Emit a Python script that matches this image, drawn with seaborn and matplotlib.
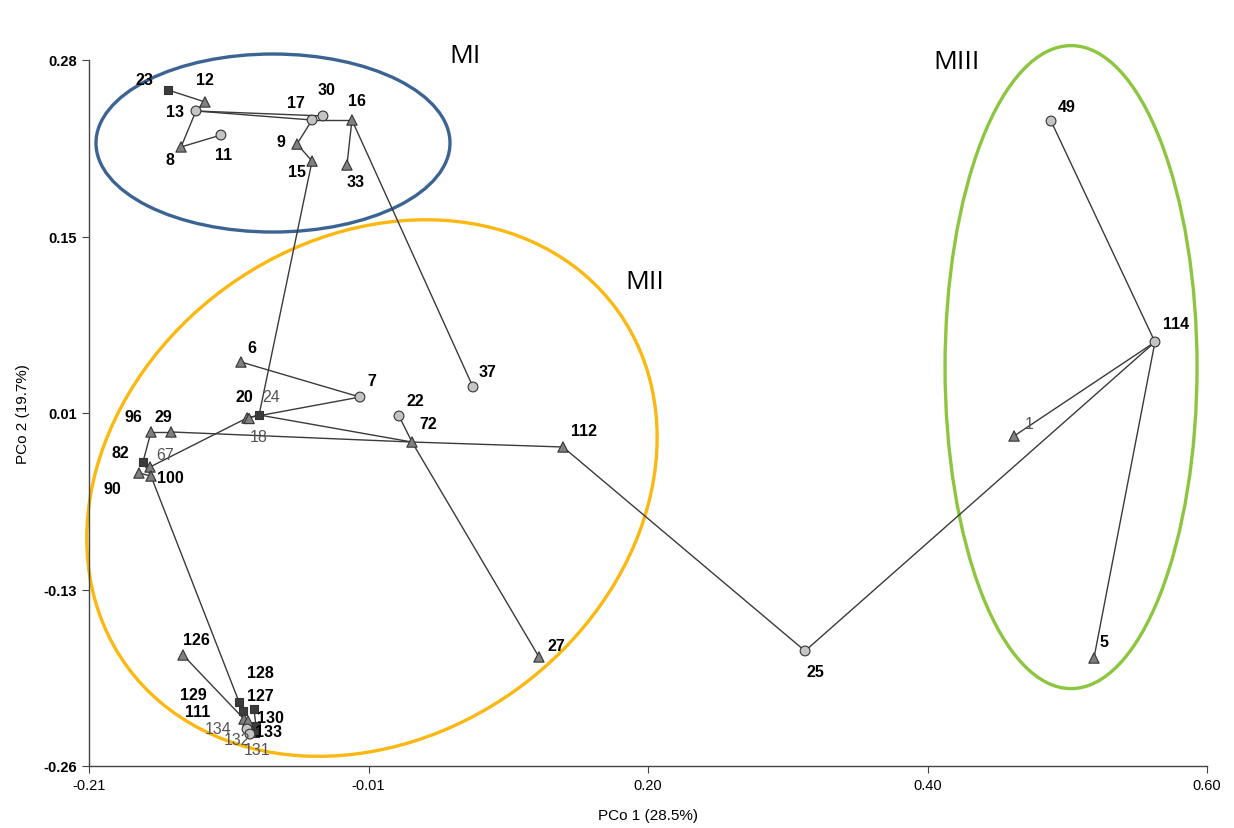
import matplotlib
matplotlib.use("Agg")
import matplotlib.pyplot as plt
from matplotlib.patches import Ellipse
from matplotlib.transforms import Affine2D, ScaledTranslation
import seaborn as sns
import pandas as pd
import numpy as np

# sample ids, coordinates on the two principal coordinates and marker type
ids = ["23", "12", "13", "8", "11", "17", "30", "16", "9", "15", "33", "37",
       "6", "7", "20", "24", "18", "96", "29", "82", "67", "90", "100", "22",
       "72", "112", "27", "25", "126", "129", "111", "127", "134", "130",
       "132", "133", "131", "128", "114", "49", "1", "5"]
pco1 = [-0.1528, -0.1260, -0.1325, -0.1433, -0.1144, -0.0484, -0.0405, -0.0195,
        -0.0593, -0.0484, -0.0231, 0.0682, -0.0999, -0.0137, -0.0955, -0.0868,
        -0.0940, -0.1651, -0.1506, -0.1709, -0.1658, -0.1738, -0.1651, 0.0146,
        0.0240, 0.1334, 0.1160, 0.3088, -0.1419, -0.1013, -0.0984, -0.0905,
        -0.0977, -0.0948, -0.0955, -0.0890, -0.0897, -0.0934, 0.5623, 0.4870,
        0.4602, 0.5181]
pco2 = [0.2571, 0.2479, 0.2410, 0.2135, 0.2226, 0.2341, 0.2372, 0.2341,
        0.2157, 0.2027, 0.1997, 0.0299, 0.0490, 0.0222, 0.0062, 0.0085,
        0.0058, -0.0045, -0.0045, -0.0275, -0.0313, -0.0359, -0.0382, 0.0077,
        -0.0122, -0.0160, -0.1766, -0.1720, -0.1751, -0.2110, -0.2179, -0.2164,
        -0.2241, -0.2256, -0.2317, -0.2294, -0.2348, -0.2356, 0.0643, 0.2333,
        -0.0076, -0.1774]
kind = ["sq", "tri", "circ", "tri", "circ", "circ", "circ", "tri", "tri", "tri",
        "tri", "circ", "tri", "circ", "tri", "sq", "tri", "tri", "tri", "sq",
        "tri", "tri", "tri", "circ", "tri", "tri", "tri", "circ", "tri", "sq",
        "sq", "sq", "tri", "tri", "circ", "sq", "sq", "circ", "circ", "circ",
        "tri", "tri"]

# minimum spanning tree links
links = [("23", "12"), ("12", "13"), ("13", "8"), ("8", "11"), ("13", "17"),
         ("13", "30"), ("17", "16"), ("17", "9"), ("9", "15"), ("15", "24"),
         ("16", "33"), ("16", "37"), ("24", "20"), ("20", "7"), ("7", "6"),
         ("24", "72"), ("29", "72"), ("96", "29"), ("96", "82"), ("82", "100"),
         ("90", "100"), ("67", "20"), ("100", "129"), ("22", "72"), ("72", "27"),
         ("72", "112"), ("112", "25"), ("25", "114"), ("114", "49"), ("114", "1"),
         ("114", "5"), ("126", "134"), ("129", "111"), ("111", "134"),
         ("134", "130"), ("130", "133"), ("127", "133"), ("133", "131"),
         ("134", "132"), ("132", "128")]

# groups: name, centre (pco1, pco2), label position
group_names = ["MI", "MII", "MIII"]
group_centres = [(-0.0767, 0.2165), (-0.0050, -0.0474), (0.5015, 0.0451)]
group_label_pos = [(0.0624, 0.2831), (0.1928, 0.1102), (0.4189, 0.2792)]

faint = {"24", "18", "67", "134", "132", "131", "1"}

# label offsets in pixels (dx, dy up)
offsets = {"23": (-24, 10), "12": (0, 22), "13": (-21, -1), "8": (-11, -13),
           "11": (3, -19), "17": (-16, 18), "30": (4, 26), "16": (5, 20),
           "9": (-16, 3), "15": (-15, -10), "33": (9, -17), "37": (15, 15),
           "6": (11, 15), "7": (12, 17), "20": (-3, 21), "24": (12, 18),
           "18": (10, -18), "96": (-18, 15), "29": (-8, 15), "82": (-23, 10),
           "67": (15, 12), "90": (-27, -15), "100": (19, -1), "22": (16, 16),
           "72": (16, 19), "112": (21, 16), "27": (17, 11), "25": (10, -21),
           "126": (13, 16), "129": (-46, 7), "111": (-45, -1), "127": (6, 13),
           "134": (-26, -9), "130": (22, 4), "132": (-10, -10), "133": (12, -6),
           "131": (2, -16), "128": (10, 62), "114": (21, 19), "49": (16, 15),
           "1": (15, 13), "5": (10, 17)}

df = pd.DataFrame({"id": ids, "pco1": pco1, "pco2": pco2, "kind": kind})
pos = df.set_index("id")

sns.set_style("ticks")
plt.rcParams["font.family"] = ["Liberation Sans", "DejaVu Sans"]
plt.rcParams["text.color"] = "black"
plt.rcParams["axes.labelcolor"] = "black"
plt.rcParams["xtick.labelcolor"] = "black"
plt.rcParams["ytick.labelcolor"] = "black"

fig = plt.figure(figsize=(12.34, 8.29), dpi=100)
ax = fig.add_axes([89 / 1234, 62 / 829, 1118 / 1234, 706 / 829])
ax.set_xlim(-0.21, 0.60)
ax.set_ylim(-0.26, 0.28)

for a, b in links:
    ax.plot([pos.loc[a, "pco1"], pos.loc[b, "pco1"]],
            [pos.loc[a, "pco2"], pos.loc[b, "pco2"]],
            color="#3a3a3a", lw=1.0, zorder=2)

markers = {"tri": "^", "circ": "o", "sq": "s"}
palette = {"tri": "#808080", "circ": "#c4c4c4", "sq": "#3c3c3c"}
sizes = {"tri": 55, "circ": 50, "sq": 35}
sns.scatterplot(data=df, x="pco1", y="pco2", hue="kind", style="kind",
                size="kind", sizes=sizes, markers=markers, palette=palette,
                edgecolor="#333333", linewidth=0.8, legend=False, ax=ax,
                zorder=3)

for _, row in df.iterrows():
    dx, dy = offsets[row["id"]]
    if row["id"] in faint:
        color, weight = "#555555", "normal"
    else:
        color, weight = "black", "bold"
    ax.annotate(row["id"], (row["pco1"], row["pco2"]), xytext=(dx, dy),
                textcoords="offset pixels", ha="center", va="center",
                fontsize=11.5, color=color, fontweight=weight, zorder=4,
                annotation_clip=False)

# group ellipses, sized in pixels around a data centre
ring_sizes = [(354, 178, 0), (606, 496, 36), (252, 643, 0)]
ring_colors = ["#3b6394", "#fbb811", "#8cc63f"]
group_font = ["Open Sans", "DejaVu Sans"]
for (cx, cy), (w, h, ang), col in zip(group_centres, ring_sizes, ring_colors):
    tr = Affine2D() + ScaledTranslation(cx, cy, ax.transData)
    ax.add_patch(Ellipse((0, 0), w, h, angle=ang, fill=False, ec=col, lw=2.4,
                         transform=tr, clip_on=False, zorder=1))
for name, (lx, ly) in zip(group_names, group_label_pos):
    ax.text(lx, ly, name, fontsize=19, ha="center", va="center",
            family=group_font, color="black", clip_on=False)

ax.set_xticks(np.linspace(-0.21, 0.60, 5))
ax.set_xticklabels(["-0.21", "-0.01", "0.20", "0.40", "0.60"])
ax.set_yticks(np.linspace(-0.26, 0.28, 5))
ax.set_yticklabels(["-0.26", "-0.13", "0.01", "0.15", "0.28"],
                   fontweight="bold")
ax.tick_params(labelsize=10.5, length=5, color="#444444")
ax.set_xlabel("PCo 1 (28.5%)", fontsize=11, labelpad=12)
ax.set_ylabel("PCo 2 (19.7%)", fontsize=11, labelpad=10)
sns.despine(ax=ax)
for s in ["left", "bottom"]:
    ax.spines[s].set_color("#444444")
    ax.spines[s].set_linewidth(1.0)

fig.savefig("out.png", dpi=100)
